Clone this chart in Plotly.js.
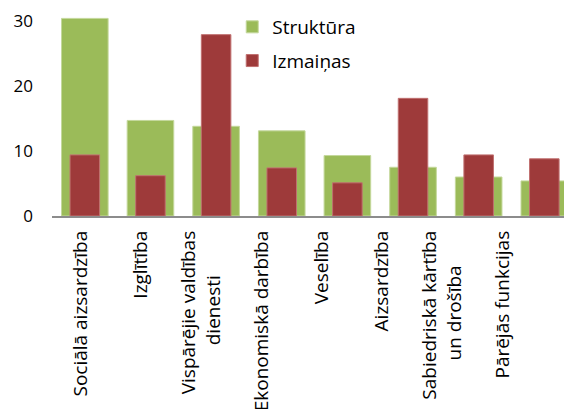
<!DOCTYPE html>
<html><head><meta charset="utf-8">
<script src="https://cdn.plot.ly/plotly-3.0.1.min.js"></script>
<style>html,body{margin:0;padding:0;background:#fff}#c{width:564px;height:409px}</style>
</head><body><div id="c"></div>
<script>
const categories = ["Sociālā aizsardzība","Izglītība","Vispārējie valdības<br>dienesti","Ekonomiskā darbība","Veselība","Aizsardzība","Sabiedriskā kārtība<br>un drošība","Pārējās funkcijas"];
const struktura = [30.4, 14.7, 13.8, 13.1, 9.3, 7.5, 6.0, 5.4];
const izmainas = [9.4, 6.2, 27.9, 7.4, 5.1, 18.1, 9.4, 8.8];
const seriesNames = ["Struktūra","Izmaiņas"];
const yTicks = [0, 10, 20, 30];

const fam = "Open Sans";
const font = fam + ", Lato, sans-serif";
const labelSize = 19;

// centre the lines of multi-line tick labels (Plotly anchors each line at its end when rotated)
const cv = document.createElement("canvas").getContext("2d");
cv.font = labelSize + "px '" + fam + "'";
const nb = "\u00A0";
const nbW = cv.measureText(nb).width || labelSize * 0.26;
function centreLines(lbl) {
  const lines = lbl.split("<br>");
  if (lines.length < 2) return lbl;
  const ws = lines.map(l => cv.measureText(l).width);
  const mx = Math.max(...ws);
  return lines.map((l, i) => l + nb.repeat(Math.round((mx - ws[i]) / 2 / nbW))).join("<br>");
}
const tickText = categories.map(centreLines);
const idx = categories.map((_, i) => i);

const data = [
  {type:"bar", x:categories, y:struktura, name:seriesNames[0], width:0.71,
   marker:{color:"#9BBB59", line:{color:"#C4D89C", width:1}}, legendgroup:"a"},
  {type:"bar", x:categories, y:izmainas, name:seriesNames[1], width:0.45,
   marker:{color:"#9E3A3A", line:{color:"#C07070", width:1}}, legendgroup:"b"},
  {type:"scatter", mode:"markers", x:idx, y:idx.map(() => null), xaxis:"x2", yaxis:"y",
   showlegend:false, hoverinfo:"skip", marker:{opacity:0}}
];
const layout = {
  width:564, height:409,
  margin:{l:51.5, r:0, t:8, b:193},
  barmode:"overlay",
  paper_bgcolor:"#fff", plot_bgcolor:"#fff",
  font:{family:font, size:labelSize, color:"#000"},
  showlegend:true,
  legend:{x:0.352, y:1.0, xanchor:"left", yanchor:"top", traceorder:"grouped", tracegroupgap:6,
          font:{family:font, size:19, color:"#000"}, bgcolor:"rgba(0,0,0,0)"},
  xaxis:{type:"category", range:[-0.5,7.3], showticklabels:false, showline:true, linecolor:"#8c8c8c", linewidth:1.5,
         ticks:"", showgrid:false},
  xaxis2:{overlaying:"x", anchor:"y", side:"bottom", type:"linear", range:[-0.472, 8.013],
          tickvals:idx, ticktext:tickText, tickangle:-90, ticks:"", showgrid:false, zeroline:false, showline:false,
          ticklabelstandoff:10, tickfont:{family:font, size:labelSize, color:"#000"}},
  yaxis:{range:[0,32], tickvals:yTicks, showgrid:false, zeroline:false, showline:false, ticks:"",
         ticklabelstandoff:18, tickfont:{family:font, size:17, color:"#000"}}
};
Plotly.newPlot("c", data, layout, {displayModeBar:false, staticPlot:true});
</script></body></html>
